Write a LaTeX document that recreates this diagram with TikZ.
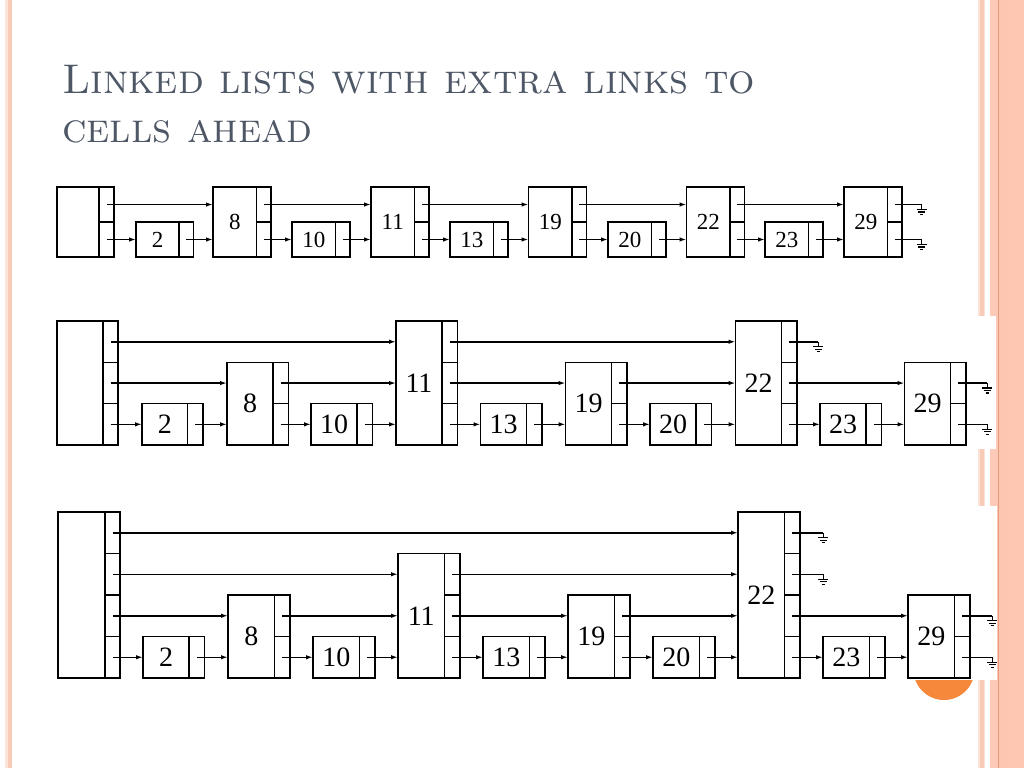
\documentclass[tikz,border=0pt]{standalone}
\usepackage{fontspec}
\newfontfamily\numfont{Liberation Serif}
\usetikzlibrary{arrows.meta,calc}
\definecolor{titlegray}{HTML}{4E5766}
\definecolor{stripeA}{HTML}{F8CBB8}
\definecolor{stripeB}{HTML}{FCCAB6}
\definecolor{stripeC}{HTML}{FDC6B0}
\definecolor{stripeD}{HTML}{FEC7B1}
\definecolor{stripeLine}{HTML}{E59A7A}
\definecolor{paleedge}{HTML}{FBE3D8}
\definecolor{dotorange}{HTML}{F5883A}
\def\numsize{21}
\def\rowbot{257}
\def\lh{35}
\tikzset{
  databox/.style={draw, line width=1.5pt, inner sep=0pt, outer sep=0pt, anchor=south west,
    font=\numfont\fontsize{\numsize}{\numsize}\selectfont},
  ptrbox/.style={draw, line width=1.5pt, inner sep=0pt, outer sep=0pt, anchor=south west},
  arr/.style={line width=1.5pt, -{Latex[length=7pt,width=4.5pt]}},
  wire/.style={line width=1.5pt},
  gnd/.pic={\draw[line width=1.2pt] (0,0) -- (0,5) (-5,5) -- (5,5) (-3.3,7.5) -- (3.3,7.5) (-1.6,10) -- (1.6,10);}
}
% name, left x, levels, label, data width, pointer width
\newcommand{\mkcell}[6]{%
  \node[databox, minimum width=#5, minimum height={#3*\lh}] (#1) at (#2,\rowbot) {#4};
  \foreach \k in {1,...,#3} {\node[ptrbox, minimum width=#6, minimum height=\lh] (#1p\k) at ({#2+#5},{\rowbot-(\k-1)*\lh}) {};}
}
\newcommand{\lnk}[2]{\draw[arr] (#1.center) -- (#2.west |- #1.center);}
\newcommand{\grd}[3]{\draw[wire] (#1.center) -- ++(#2,0) coordinate (#3); \pic at (#3) {gnd};}
\begin{document}
\begin{tikzpicture}[x=1pt,y=-1pt]
\useasboundingbox (0,0) rectangle (1024,768);
\fill[white] (0,0) rectangle (1024,768);
% slide decoration
\fill[paleedge] (5,0) rectangle (8,768);
\fill[stripeA] (8,0) rectangle (12,768);
\fill[paleedge] (978,0) rectangle (985,768);
\fill[stripeA] (979.5,0) rectangle (983.5,768);
\fill[stripeB] (990,0) rectangle (998,768);
\fill[stripeC] (999,0) rectangle (1008,768);
\fill[stripeD] (1008,0) rectangle (1024,768);
\fill[stripeLine] (998,0) rectangle (999.2,768);
\fill[dotorange] (944,669.5) circle (30.5);
% title
\node[anchor=base west, inner sep=0pt, text=titlegray, font=\fontsize{41.5}{45}\selectfont\scshape] (t1) at (62,93) {Linked lists with extra links to};
\node[anchor=base west, inner sep=0pt, text=titlegray, font=\fontsize{41.5}{45}\selectfont\scshape] (t2) at (62,142) {cells ahead};
% image backgrounds
\fill[white] (50,316) rectangle (996,449);
\fill[white] (52,506) rectangle (997,679.5);
% ---------------- row 1
\def\numsize{23}\def\rowbot{257}\def\lh{35}
\mkcell{Ah}{57}{2}{}{42}{15}
\mkcell{A2}{136}{1}{2}{43}{14.5}
\mkcell{A8}{213}{2}{8}{43.5}{14.5}
\mkcell{A10}{292}{1}{10}{43.5}{14.5}
\mkcell{A11}{371}{2}{11}{43.5}{14.5}
\mkcell{A13}{450}{1}{13}{43.5}{14.5}
\mkcell{A19}{528.5}{2}{19}{43.5}{14.5}
\mkcell{A20}{608}{1}{20}{43.5}{14.5}
\mkcell{A22}{686.5}{2}{22}{43.5}{14.5}
\mkcell{A23}{765}{1}{23}{43.5}{14.5}
\mkcell{A29}{844}{2}{29}{43.5}{14.5}
\lnk{Ahp2}{A8}\lnk{Ahp1}{A2}\lnk{A2p1}{A8}
\lnk{A8p2}{A11}\lnk{A8p1}{A10}\lnk{A10p1}{A11}
\lnk{A11p2}{A19}\lnk{A11p1}{A13}\lnk{A13p1}{A19}
\lnk{A19p2}{A22}\lnk{A19p1}{A20}\lnk{A20p1}{A22}
\lnk{A22p2}{A29}\lnk{A22p1}{A23}\lnk{A23p1}{A29}
\grd{A29p2}{27}{ga1}\grd{A29p1}{27}{ga2}
% ---------------- row 2
\def\numsize{28}\def\rowbot{445}\def\lh{41.3}
\mkcell{Bh}{57}{3}{}{46}{15}
\mkcell{B2}{142}{1}{2}{45.5}{15.5}
\mkcell{B8}{227}{2}{8}{46}{15.5}
\mkcell{B10}{311}{1}{10}{46}{15.5}
\mkcell{B11}{396}{3}{11}{46}{15.5}
\mkcell{B13}{480.5}{1}{13}{46}{15.5}
\mkcell{B19}{565.5}{2}{19}{46}{15.5}
\mkcell{B20}{650}{1}{20}{46}{15.5}
\mkcell{B22}{735.5}{3}{22}{46}{15.5}
\mkcell{B23}{820}{1}{23}{46}{15.5}
\mkcell{B29}{904.5}{2}{29}{46}{15.5}
\lnk{Bhp3}{B11}\lnk{Bhp2}{B8}\lnk{Bhp1}{B2}\lnk{B2p1}{B8}
\lnk{B8p2}{B11}\lnk{B8p1}{B10}\lnk{B10p1}{B11}
\lnk{B11p3}{B22}\lnk{B11p2}{B19}\lnk{B11p1}{B13}\lnk{B13p1}{B19}
\lnk{B19p2}{B22}\lnk{B19p1}{B20}\lnk{B20p1}{B22}
\lnk{B22p2}{B29}\lnk{B22p1}{B23}\lnk{B23p1}{B29}
\grd{B22p3}{29}{gb1}\grd{B29p2}{29}{gb2}\grd{B29p1}{29}{gb3}
% ---------------- row 3
\def\numsize{28}\def\rowbot{678}\def\lh{41.5}
\mkcell{Ch}{58}{4}{}{47}{15}
\mkcell{C2}{143}{1}{2}{46}{15.5}
\mkcell{C8}{228}{2}{8}{46.5}{15.5}
\mkcell{C10}{313}{1}{10}{46.5}{15.5}
\mkcell{C11}{398}{3}{11}{46.5}{15.5}
\mkcell{C13}{483}{1}{13}{46.5}{15.5}
\mkcell{C19}{568}{2}{19}{46.5}{15.5}
\mkcell{C20}{653}{1}{20}{46.5}{15.5}
\mkcell{C22}{738}{4}{22}{46.5}{15.5}
\mkcell{C23}{823}{1}{23}{46.5}{15.5}
\mkcell{C29}{908}{2}{29}{46.5}{15.5}
\lnk{Chp4}{C22}\lnk{Chp3}{C11}\lnk{Chp2}{C8}\lnk{Chp1}{C2}\lnk{C2p1}{C8}
\lnk{C8p2}{C11}\lnk{C8p1}{C10}\lnk{C10p1}{C11}
\lnk{C11p3}{C22}\lnk{C11p2}{C19}\lnk{C11p1}{C13}\lnk{C13p1}{C19}
\lnk{C19p2}{C22}\lnk{C19p1}{C20}\lnk{C20p1}{C22}
\lnk{C22p2}{C29}\lnk{C22p1}{C23}\lnk{C23p1}{C29}
\grd{C22p4}{31}{gc1}\grd{C22p3}{31}{gc2}\grd{C29p2}{30}{gc3}\grd{C29p1}{30}{gc4}
\end{tikzpicture}
\end{document}
